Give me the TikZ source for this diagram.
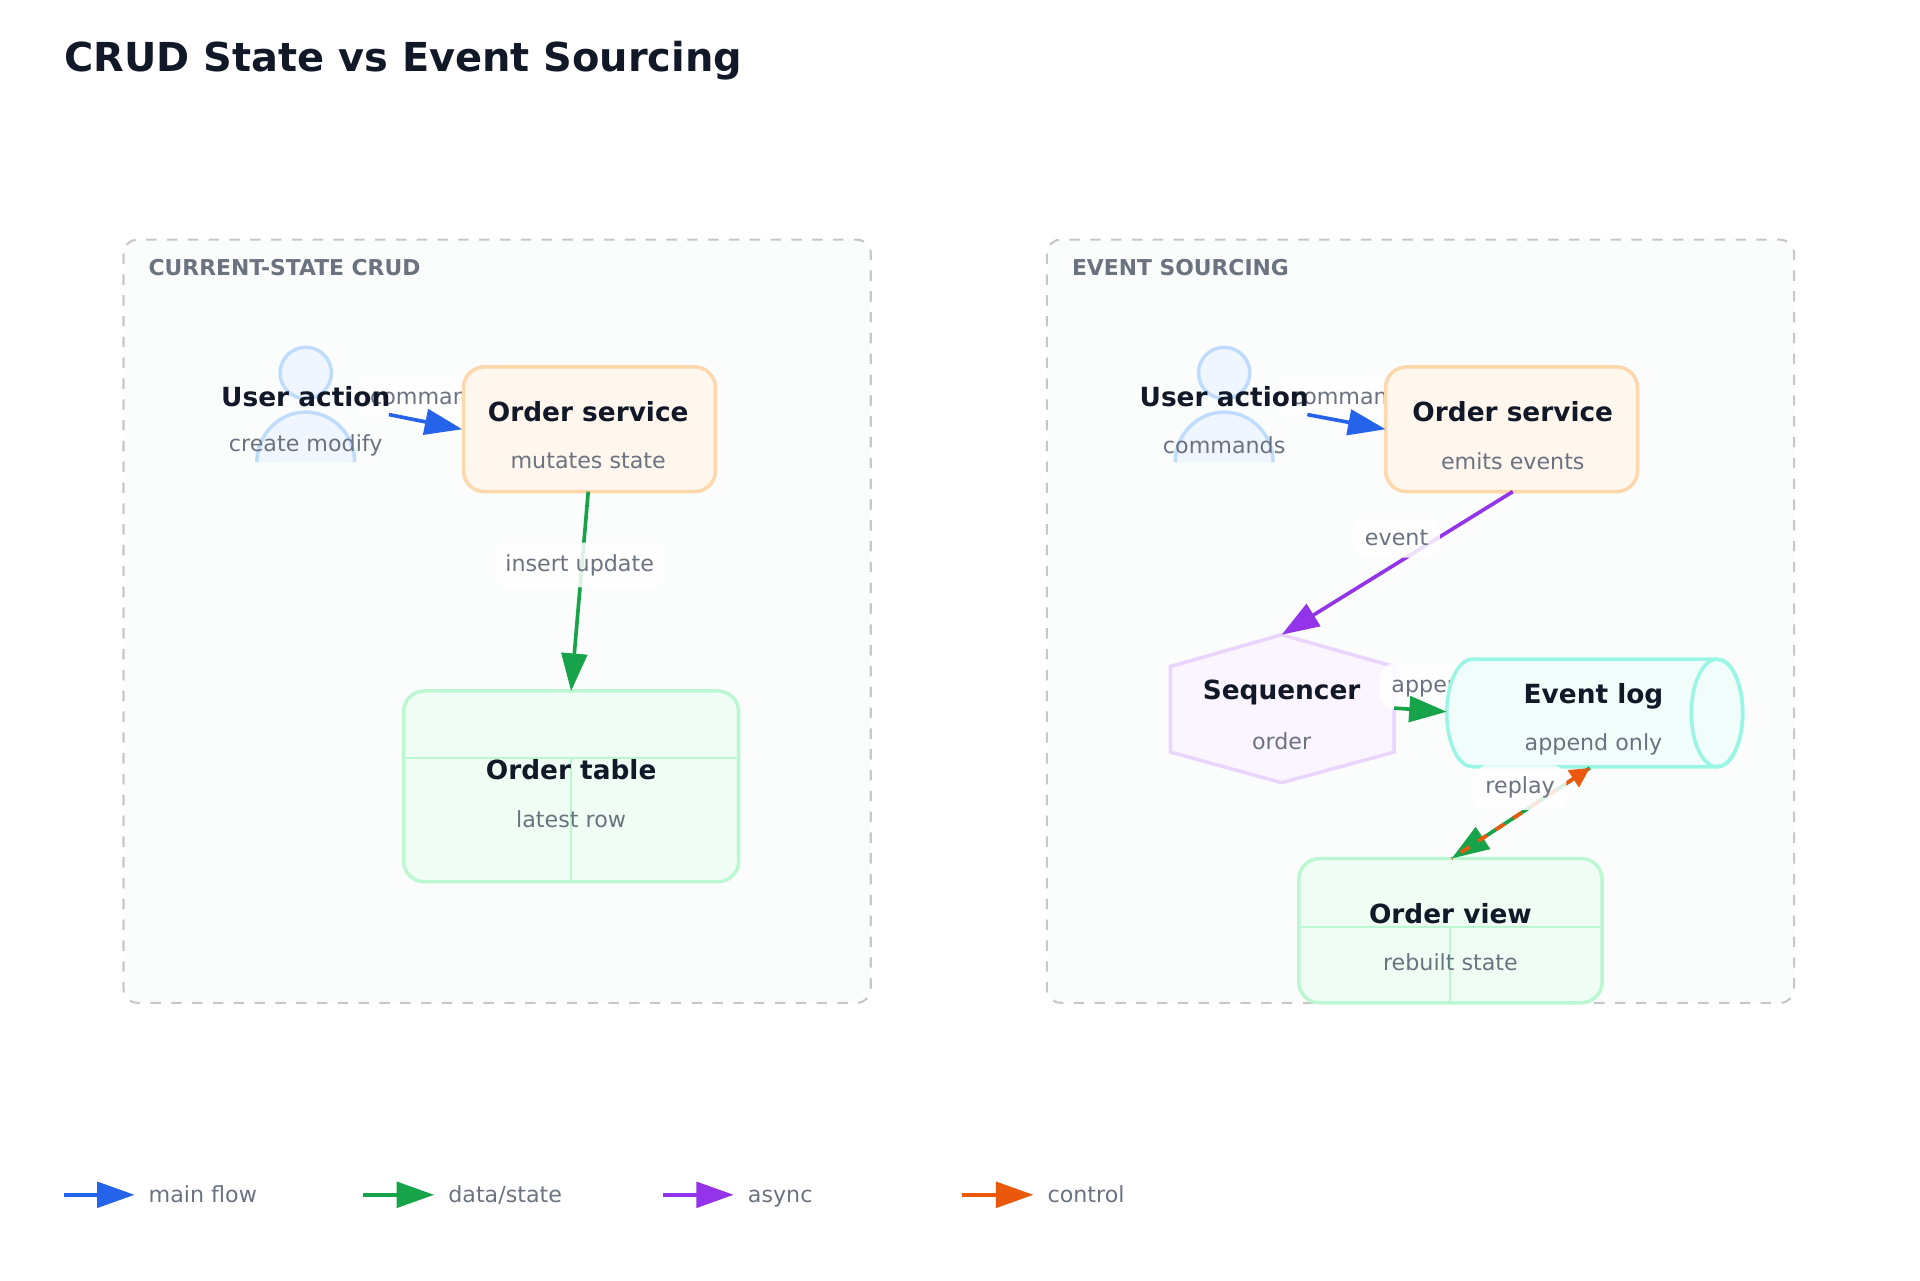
\documentclass[tikz,border=0pt]{standalone}
\usepackage{fontspec}
\setmainfont{DejaVu Sans}
\usetikzlibrary{arrows.meta}
\definecolor{ink}{HTML}{111827}
\definecolor{muted}{HTML}{6B7280}
\definecolor{cmain}{HTML}{2563EB}
\definecolor{cdata}{HTML}{16A34A}
\definecolor{casync}{HTML}{9333EA}
\definecolor{cctrl}{HTML}{EA580C}
\definecolor{userline}{HTML}{BFDBFE}
\definecolor{userfill}{HTML}{EFF6FF}
\definecolor{seqline}{HTML}{E9D5FF}
\definecolor{seqfill}{HTML}{FAF5FF}
\definecolor{logline}{HTML}{99F6E4}
\definecolor{logfill}{HTML}{F0FDFA}
\definecolor{svcline}{HTML}{FED7AA}
\definecolor{svcfill}{HTML}{FFF7ED}
\definecolor{tblline}{HTML}{BBF7D0}
\definecolor{tblfill}{HTML}{F0FDF4}
\definecolor{panelfill}{HTML}{FBFCFC}
\tikzset{
  tip/.style={-{Triangle[length=0.38cm,width=0.26cm]}},
  flow/.style={tip,line width=1.05pt},
  panel/.style={draw=black!22,dashed,fill=panelfill,rounded corners=4pt,line width=0.6pt},
  svc/.style={draw=svcline,fill=svcfill,rounded corners=6pt,line width=1pt},
  tbl/.style={draw=tblline,fill=tblfill,rounded corners=6pt,line width=1pt},
  person/.style={draw=userline,fill=userfill,line width=1pt},
  title/.style={font=\bfseries\fontsize{7.6}{9}\selectfont,text=ink},
  sub/.style={font=\fontsize{6.4}{7}\selectfont,text=muted},
  elabel/.style={font=\fontsize{6.4}{7}\selectfont,text=muted,fill=white,fill opacity=0.85,text opacity=1,rounded corners=4pt}
}
\begin{document}
\begin{tikzpicture}[x=0.012387cm,y=-0.012387cm]
    \useasboundingbox (0,0) rectangle (1570,1047);
    \node [anchor=west,inner sep=0,font=\bfseries\fontsize{11.5}{13}\selectfont,text=ink] (head) at (52,50) {CRUD State vs Event Sourcing};
    % panels
    \draw [panel] (101,196) rectangle (712,820);
    \draw [panel] (856,196) rectangle (1467,820);
    \node [anchor=west,inner sep=0,font=\bfseries\fontsize{6.3}{7}\selectfont,text=muted] (crudtag) at (121,219) {CURRENT-STATE CRUD};
    \node [anchor=west,inner sep=0,font=\bfseries\fontsize{6.3}{7}\selectfont,text=muted] (estag) at (876,219) {EVENT SOURCING};
    % left: crud
    \draw [person] (250,305) circle [radius=21];
    \draw [person] (210,378) arc [start angle=180,end angle=0,x radius=40,y radius=-41];
    \node [elabel] (cmdA) at (348,324) {command};
    \node [title] (userA) at (250,324) {User action};
    \node [sub] at (250,364) {create modify};
    \coordinate (userAout) at (318,339);
    \draw [svc] (379,300) rectangle (585,402);
    \node [title] (svcA) at (481,337) {Order service};
    \node [sub] at (481,377) {mutates state};
    \coordinate (svcAin) at (378,351);
    \coordinate (svcAbot) at (481,402);
    \draw [tbl] (330,565) rectangle (604,721);
    \draw [draw=tblline,line width=0.6pt] (330,620) -- (604,620) (467,620) -- (467,721);
    \node [title] (tableA) at (467,629) {Order table};
    \node [sub] at (467,670) {latest row};
    \coordinate (tableAtop) at (467,565);
    \draw [flow,cmain] (userAout) -- (svcAin);
    \draw [flow,cdata] (svcAbot) -- (tableAtop);
    \node [elabel] (insertlbl) at (474,462) {insert update};
    % right: event sourcing
    \draw [person] (1001,305) circle [radius=21];
    \draw [person] (961,378) arc [start angle=180,end angle=0,x radius=40,y radius=-41];
    \node [elabel] (cmdB) at (1101,324) {command};
    \node [title] (userB) at (1001,324) {User action};
    \node [sub] at (1001,364) {commands};
    \coordinate (userBout) at (1069,339);
    \draw [svc] (1133,300) rectangle (1339,402);
    \node [title] (svcB) at (1237,337) {Order service};
    \node [sub] at (1237,377) {emits events};
    \coordinate (svcBin) at (1133,351);
    \coordinate (svcBbot) at (1237,402);
    \draw [draw=seqline,fill=seqfill,line width=1pt] (1048,519) -- (1140,545) -- (1140,615) -- (1048,640) -- (957,615) -- (957,545) -- cycle;
    \node [title] (seq) at (1048,566) {Sequencer};
    \node [sub] at (1048,606) {order};
    \coordinate (seqtop) at (1048,519);
    \coordinate (seqout) at (1140,579);
    \node [elabel] (appendlbl) at (1172,561) {append};
    \draw [draw=logline,fill=logfill,line width=1pt] (1204,539) -- (1404,539) arc [start angle=-90,end angle=90,x radius=21,y radius=44] -- (1204,627) arc [start angle=90,end angle=270,x radius=21,y radius=44] -- cycle;
    \draw [draw=logline,line width=1pt] (1404,583) ellipse [x radius=21,y radius=44];
    \node [title] (log) at (1303,569) {Event log};
    \node [sub] at (1303,609) {append only};
    \coordinate (login) at (1183,582);
    \coordinate (logbot) at (1300,628);
    \draw [tbl] (1062,702) rectangle (1310,820);
    \draw [draw=tblline,line width=0.6pt] (1062,758) -- (1310,758) (1186,758) -- (1186,820);
    \node [title] (view) at (1186,747) {Order view};
    \node [sub] at (1186,787) {rebuilt state};
    \coordinate (viewtop) at (1187,702);
    \draw [flow,cmain] (userBout) -- (svcBin);
    \draw [flow,casync] (svcBbot) -- (seqtop);
    \node [elabel] (eventlbl) at (1142,440) {event};
    \draw [flow,cdata] (seqout) -- (login);
    \draw [flow,cdata] (logbot) -- (viewtop);
    \draw [cctrl,dashed,line width=1.05pt,{Triangle[length=0.2cm,width=0.2cm]}-] (logbot) -- (viewtop);
    \node [elabel] (replaylbl) at (1243,644) {replay};
    % legend
    \foreach \c/\x/\t in {cmain/52/main flow,cdata/297/data\slash state,casync/542/async,cctrl/787/control}{
      \draw [flow,\c] (\x,977) -- (\x+58,977);
      \node [anchor=base west,inner sep=0,font=\fontsize{6.4}{7}\selectfont,text=muted] at (\x+69,983) {\t};
    }
\end{tikzpicture}
\end{document}
